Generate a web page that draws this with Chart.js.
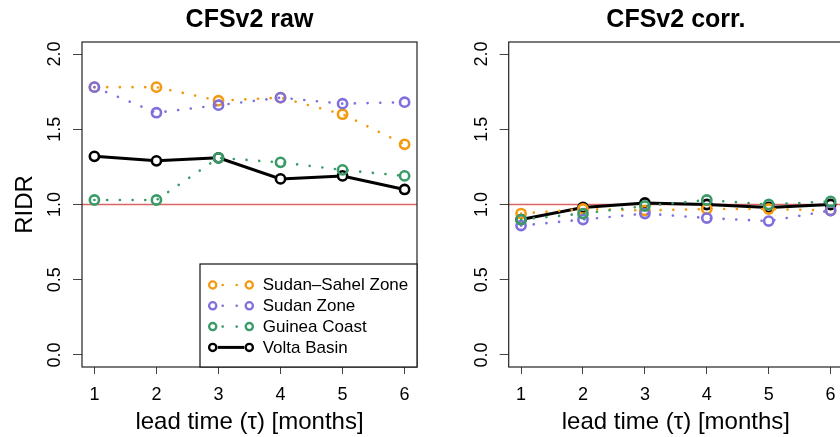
<!DOCTYPE html>
<html><head><meta charset="utf-8">
<script src="https://cdn.jsdelivr.net/npm/chart.js@4.4.1/dist/chart.umd.min.js"></script>
<style>
html,body{margin:0;padding:0;background:#fff;overflow:hidden;width:840px;height:437px;}
#wrap{position:relative;width:840px;height:437px;overflow:hidden;background:#fff;}
#p1{position:absolute;left:0;top:0;width:420px;height:437px;}
#p2{position:absolute;left:420px;top:0;width:426px;height:437px;}
canvas{display:block;}
</style></head><body>
<div id="wrap">
  <div id="p1"><canvas id="c1" width="420" height="437"></canvas></div>
  <div id="p2"><canvas id="c2" width="426" height="437"></canvas></div>
</div>
<script>
// ---------------- data ----------------
const leadTime = [1, 2, 3, 4, 5, 6];
const xTicks = [1, 2, 3, 4, 5, 6];
const yTicks = [0.0, 0.5, 1.0, 1.5, 2.0];
const seriesNames = ['Sudan\u2013Sahel Zone', 'Sudan Zone', 'Guinea Coast', 'Volta Basin'];
const panelTitles = ['CFSv2 raw', 'CFSv2 corr.'];
const yTitle = 'RIDR';
const xTitle = 'lead time (\u03c4) [months]';
const refValue = 1.0;

// CFSv2 raw
const rawSudanSahel = [1.78, 1.78, 1.69, 1.71, 1.60, 1.40];
const rawSudan      = [1.78, 1.61, 1.66, 1.71, 1.67, 1.68];
const rawGuinea     = [1.03, 1.03, 1.31, 1.28, 1.23, 1.19];
const rawVolta      = [1.32, 1.29, 1.31, 1.17, 1.19, 1.10];
// CFSv2 corrected
const corrSudanSahel = [0.94, 0.97, 0.96, 0.97, 0.97, 0.96];
const corrSudan      = [0.86, 0.90, 0.94, 0.91, 0.89, 0.96];
const corrGuinea     = [0.90, 0.94, 0.99, 1.03, 1.00, 1.02];
const corrVolta      = [0.90, 0.98, 1.01, 1.00, 0.98, 1.00];

// ---------------- styles ----------------
const FONT = '"Liberation Sans", Arial, Helvetica, sans-serif';
const colors = ['#F39A12', '#7F70DE', '#3A9A68', '#000000'];
const dotted = [true, true, true, false];
const drawOrder = [3, 2, 1, 4]; // higher = drawn first (below)
const refColor = '#D96666';

function makeDatasets(seriesList) {
  return seriesList.map((vals, k) => ({
    label: seriesNames[k],
    data: leadTime.map((t, i) => ({x: t, y: vals[i]})),
    borderColor: colors[k],
    backgroundColor: colors[k],
    borderWidth: dotted[k] ? 2.6 : 3,
    borderDash: dotted[k] ? [0.1, 12.6] : [],
    borderCapStyle: dotted[k] ? 'round' : 'butt',
    pointRadius: 4.6,
    pointHoverRadius: 4.6,
    pointBorderWidth: 2.6,
    pointBorderColor: colors[k],
    pointBackgroundColor: dotted[k] ? 'rgba(0,0,0,0)' : '#ffffff',
    tension: 0,
    order: drawOrder[k]
  }));
}

const refLinePlugin = {
  id: 'refLine',
  beforeDatasetsDraw(chart) {
    const {ctx, chartArea: a, scales: {y}} = chart;
    const py = y.getPixelForValue(refValue);
    ctx.save();
    ctx.strokeStyle = refColor;
    ctx.lineWidth = 1.6;
    ctx.beginPath();
    ctx.moveTo(a.left, py);
    ctx.lineTo(a.right, py);
    ctx.stroke();
    ctx.restore();
  }
};

const boxPlugin = {
  id: 'box',
  afterDraw(chart) {
    const {ctx, chartArea: a} = chart;
    ctx.save();
    ctx.strokeStyle = '#222';
    ctx.lineWidth = 1.2;
    ctx.strokeRect(a.left, a.top, a.right - a.left, a.bottom - a.top);
    ctx.restore();
  }
};

const legendPlugin = {
  id: 'rLegend',
  afterDraw(chart) {
    const {ctx, chartArea: a} = chart;
    const bx = a.right - 217, by = a.bottom - 103;
    ctx.save();
    ctx.fillStyle = '#fff';
    ctx.fillRect(bx, by, a.right - bx, a.bottom - by);
    ctx.strokeStyle = '#111';
    ctx.lineWidth = 1.2;
    ctx.strokeRect(bx, by, a.right - bx, a.bottom - by);
    const rowY0 = by + 21, rowStep = 20.8;
    const c1 = bx + 12.7, c2 = bx + 49.3;
    ctx.font = '17px ' + FONT;
    ctx.textBaseline = 'middle';
    ctx.textAlign = 'left';
    seriesNames.forEach((name, k) => {
      const yy = rowY0 + k * rowStep;
      ctx.strokeStyle = colors[k];
      ctx.fillStyle = colors[k];
      if (dotted[k]) {
        [c1 + 10, c1 + 24].forEach(dx => {
          ctx.beginPath(); ctx.arc(dx, yy, 1.3, 0, Math.PI * 2); ctx.fill();
        });
      } else {
        ctx.lineWidth = 3;
        ctx.beginPath(); ctx.moveTo(c1 + 5, yy); ctx.lineTo(c2 - 5, yy); ctx.stroke();
      }
      ctx.lineWidth = 2.3;
      [c1, c2].forEach(cx => {
        ctx.beginPath(); ctx.arc(cx, yy, 3.6, 0, Math.PI * 2); ctx.stroke();
      });
      ctx.fillStyle = '#000';
      ctx.fillText(name, bx + 62.7, yy + 0.5);
    });
    ctx.restore();
  }
};

function makeChart(canvasId, idx, seriesList, yAxisWidth) {
  const plugins = [refLinePlugin, boxPlugin];
  if (idx === 0) plugins.push(legendPlugin);
  return new Chart(document.getElementById(canvasId), {
    type: 'line',
    data: {datasets: makeDatasets(seriesList)},
    plugins,
    options: {
      responsive: false,
      animation: false,
      devicePixelRatio: 1,
      layout: {autoPadding: false, padding: {left: 0, right: 3, top: 0, bottom: 0}},
      plugins: {
        legend: {display: false},
        tooltip: {enabled: false},
        title: {
          display: true,
          text: panelTitles[idx],
          fullSize: false,
          color: '#000',
          font: {family: FONT, size: 25, weight: 'bold', lineHeight: 1.2},
          padding: {top: 5, bottom: 7}
        }
      },
      scales: {
        x: {
          type: 'linear',
          min: 0.8, max: 6.2,
          afterBuildTicks: s => { s.ticks = xTicks.map(v => ({value: v})); },
          afterFit: s => { s.height = 70; s.paddingLeft = 0; s.paddingRight = 0; },
          ticks: {
            color: '#000', padding: 10, maxRotation: 0, autoSkip: false,
            font: {family: FONT, size: 18},
            callback: v => String(v)
          },
          grid: {display: true, drawOnChartArea: false, drawTicks: true, tickLength: 7, color: '#444', lineWidth: 1},
          border: {display: false},
          title: {
            display: true, text: xTitle, color: '#000',
            font: {family: FONT, size: 24, lineHeight: 1.2},
            padding: {top: 0, bottom: 0}
          }
        },
        y: {
          type: 'linear',
          min: -0.08, max: 2.08,
          afterBuildTicks: s => { s.ticks = yTicks.map(v => ({value: v})); },
          afterFit: s => { s.width = yAxisWidth; s.paddingTop = 0; s.paddingBottom = 0; },
          ticks: {
            color: '#000', padding: 5.2, minRotation: 90, maxRotation: 90,
            crossAlign: 'center', autoSkip: false,
            font: {family: FONT, size: 18},
            callback: v => Number(v).toFixed(1)
          },
          grid: {display: true, drawOnChartArea: false, drawTicks: true, tickLength: 9, color: '#444', lineWidth: 1},
          border: {display: false},
          title: {
            display: idx === 0, text: yTitle, color: '#000',
            font: {family: FONT, size: 24, lineHeight: 1.2},
            padding: {top: 10.6, bottom: 0}
          }
        }
      }
    }
  });
}

makeChart('c1', 0, [rawSudanSahel, rawSudan, rawGuinea, rawVolta], 82);
makeChart('c2', 1, [corrSudanSahel, corrSudan, corrGuinea, corrVolta], 88.7);
</script>
</body></html>
